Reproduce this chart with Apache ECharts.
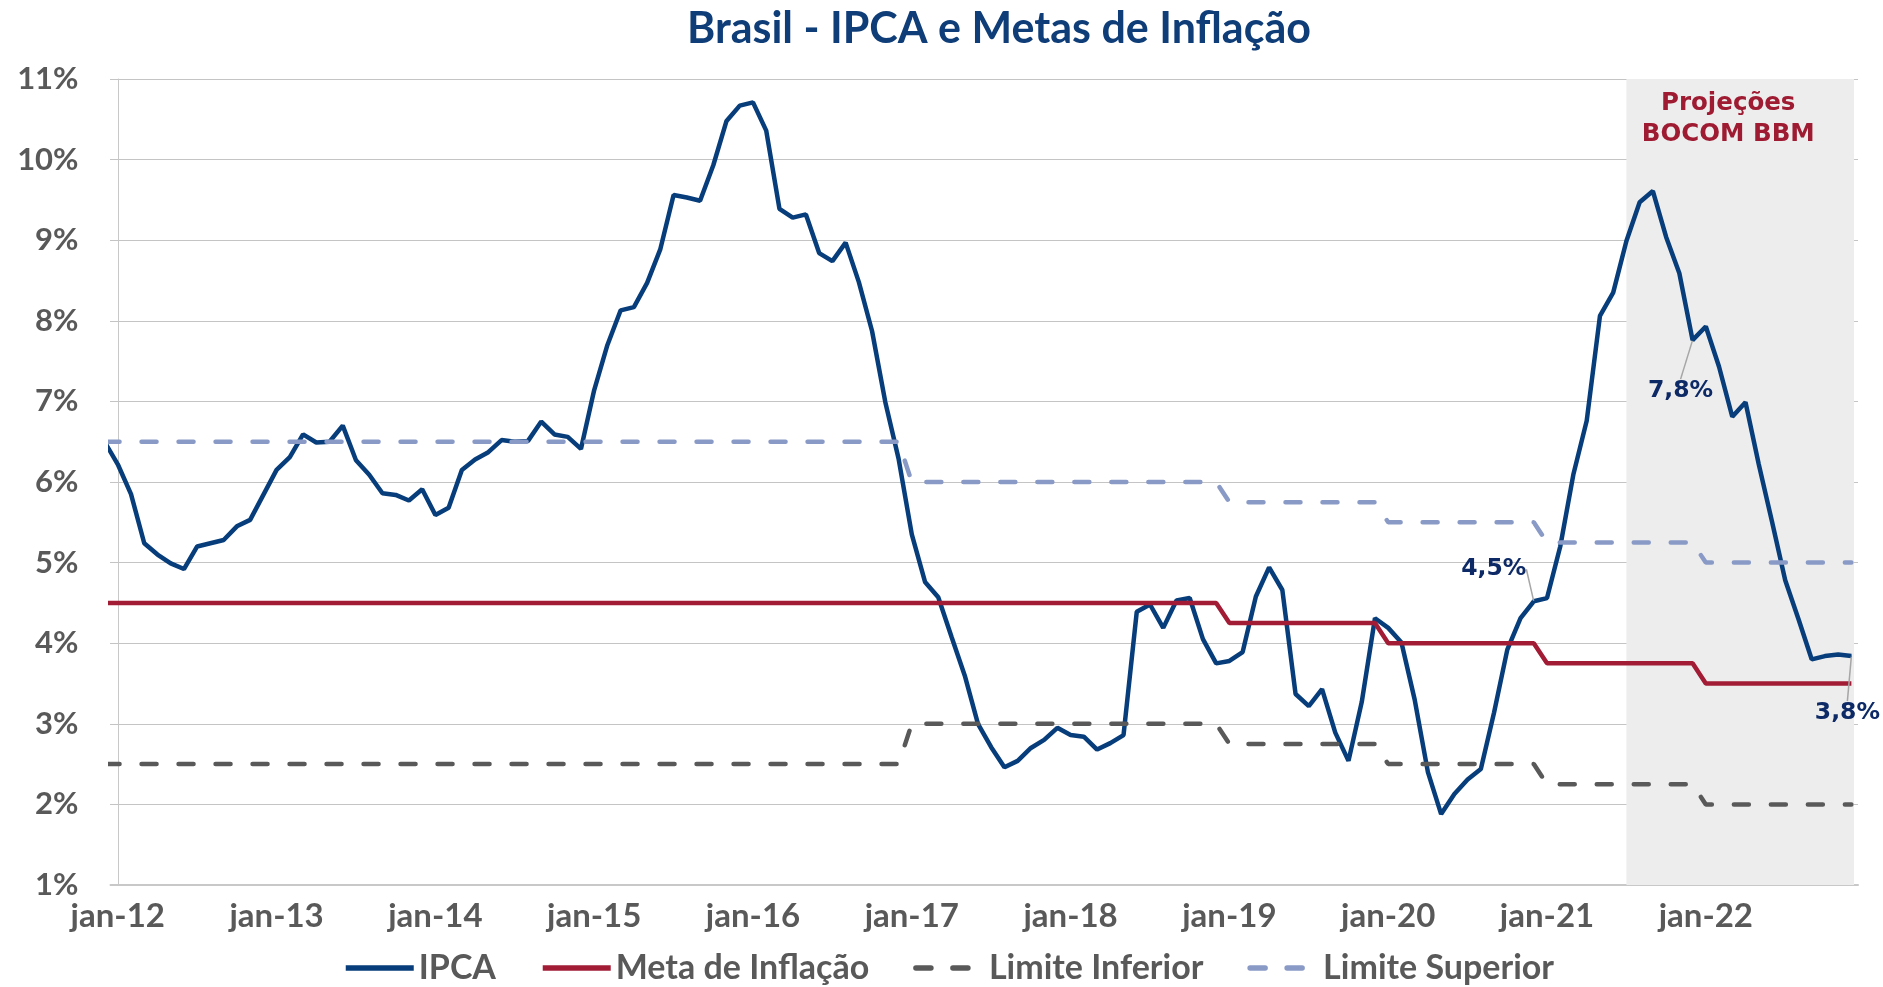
<!DOCTYPE html>
<html lang="pt-BR">
<head>
<meta charset="utf-8">
<title>Brasil - IPCA e Metas de Inflação</title>
<script src="https://cdn.jsdelivr.net/npm/echarts@6/dist/echarts.min.js"></script>
<style>
  html, body { margin: 0; padding: 0; background: #fff; }
  #chart { width: 1883px; height: 987px; }
</style>
</head>
<body>
<div id="chart"></div>
<script>
// rótulos do eixo x, um por ano (janeiro)
const rotulosX = ['jan-12', 'jan-13', 'jan-14', 'jan-15', 'jan-16', 'jan-17',
  'jan-18', 'jan-19', 'jan-20', 'jan-21', 'jan-22']

// IPCA 12 meses (%), de dez-11 a dez-22; a partir de ago-21 são projeções
const ipca = [
  6.50,
  6.22, 5.85, 5.24, 5.10, 4.99, 4.92, 5.20, 5.24, 5.28, 5.45, 5.53, 5.84,
  6.15, 6.31, 6.59, 6.49, 6.50, 6.70, 6.27, 6.09, 5.86, 5.84, 5.77, 5.91,
  5.59, 5.68, 6.15, 6.28, 6.37, 6.52, 6.50, 6.51, 6.75, 6.59, 6.56, 6.41,
  7.14, 7.70, 8.13, 8.17, 8.47, 8.89, 9.56, 9.53, 9.49, 9.93, 10.48, 10.67,
  10.71, 10.36, 9.39, 9.28, 9.32, 8.84, 8.74, 8.97, 8.48, 7.87, 6.99, 6.29,
  5.35, 4.76, 4.57, 4.08, 3.60, 3.00, 2.71, 2.46, 2.54, 2.70, 2.80, 2.95,
  2.86, 2.84, 2.68, 2.76, 2.86, 4.39, 4.48, 4.19, 4.53, 4.56, 4.05, 3.75,
  3.78, 3.89, 4.58, 4.94, 4.66, 3.37, 3.22, 3.43, 2.89, 2.54, 3.27, 4.31,
  4.19, 4.01, 3.30, 2.40, 1.88, 2.13, 2.31, 2.44, 3.14, 3.92, 4.31, 4.52,
  4.56, 5.20, 6.10, 6.76, 8.06, 8.35, 8.99, 9.47, 9.61, 9.04, 8.59, 7.76,
  7.93, 7.43, 6.81, 6.99, 6.22, 5.51, 4.78, 4.30, 3.80, 3.84, 3.86, 3.84
]

// metas e limites de tolerância por ano, 2011 a 2022
const anos = [2011, 2012, 2013, 2014, 2015, 2016, 2017, 2018, 2019, 2020, 2021, 2022]
const metaAnual = [4.5, 4.5, 4.5, 4.5, 4.5, 4.5, 4.5, 4.5, 4.25, 4.0, 3.75, 3.5]
const limiteInfAnual = [2.5, 2.5, 2.5, 2.5, 2.5, 2.5, 3.0, 3.0, 2.75, 2.5, 2.25, 2.0]
const limiteSupAnual = [6.5, 6.5, 6.5, 6.5, 6.5, 6.5, 6.0, 6.0, 5.75, 5.5, 5.25, 5.0]

// meses (0 = jan-12) com valor destacado e início da área de projeção
const mesesDestacados = [107, 119, 131]
const inicioProjecao = 114
const fimProjecao = 131.2

// deslocamento (px) de cada rótulo destacado em relação ao ponto
const deslocRotulos = [[-40, -32], [-12, 51], [-4, 57]]

const fonteEixo = 'Lato, "Open Sans", sans-serif'
const fonteNota = '"DejaVu Sans", Verdana, sans-serif'

const mesDoIndice = i => i - 1
const anoDoMes = m => Math.floor(m / 12) + 1

const serieIpca = ipca.map((v, i) => {
  const m = mesDoIndice(i)
  if (mesesDestacados.includes(m)) {
    return { value: [m, v], symbol: 'circle', symbolSize: 1, label: { show: true } }
  }
  return [m, v]
})
const porMes = anual => ipca.map((_, i) => {
  const m = mesDoIndice(i)
  return [m, anual[anoDoMes(m)]]
})

const chart = echarts.init(document.getElementById('chart'))

const tracejado = { type: [15, 22], cap: 'round', width: 4.5 }

chart.setOption({
  animation: false,
  title: {
    text: 'Brasil - IPCA e Metas de Inflação',
    left: 994,
    top: 3,
    textAlign: 'center',
    textStyle: { fontFamily: fonteEixo, fontSize: 43, fontWeight: 'bold', color: '#0e3d78' }
  },
  legend: {
    data: ['IPCA', 'Meta de Inflação', 'Limite Inferior', 'Limite Superior'],
    left: 338,
    top: 946,
    itemWidth: 68,
    itemHeight: 14,
    itemGap: 44,
    itemStyle: { color: 'transparent', borderWidth: 0, opacity: 0 },
    lineStyle: { width: 5.5 },
    textStyle: { fontFamily: fonteEixo, fontSize: 34, fontWeight: 'bold', color: '#595959' }
  },
  grid: { left: 110.5, right: 25, top: 79, bottom: 102 },
  xAxis: {
    type: 'value',
    min: -0.55,
    max: 131.5,
    splitLine: { show: false },
    axisTick: { show: false },
    axisLine: { lineStyle: { color: '#c8c8c8', width: 2 } },
    axisLabel: {
      customValues: rotulosX.map((_, k) => k * 12),
      formatter: v => rotulosX[Math.round(v / 12)],
      margin: 15,
      fontFamily: fonteEixo,
      fontSize: 33,
      fontWeight: 'bold',
      color: '#595959'
    }
  },
  yAxis: {
    type: 'value',
    min: 1,
    max: 11,
    interval: 1,
    axisLine: { show: true, lineStyle: { color: '#c8c8c8', width: 1 } },
    axisTick: { show: false },
    splitLine: { lineStyle: { type: 'dotted', color: '#888888', width: 1 } },
    axisLabel: {
      formatter: v => v + '%',
      margin: 32,
      fontFamily: fonteEixo,
      fontSize: 31,
      fontWeight: 'bold',
      color: '#595959'
    }
  },
  series: [
    {
      name: 'Projeções',
      type: 'line',
      data: [],
      z: -1,
      markArea: {
        silent: true,
        itemStyle: { color: '#ededed' },
        label: {
          position: 'insideTop',
          distance: 9,
          offset: [-12, 0],
          formatter: 'Projeções\nBOCOM BBM',
          fontFamily: fonteNota,
          fontSize: 24.5,
          lineHeight: 31,
          fontWeight: 'bold',
          color: '#9e1b32'
        },
        data: [[{ xAxis: inicioProjecao }, { xAxis: fimProjecao }]]
      }
    },
    {
      name: 'IPCA',
      type: 'line',
      data: serieIpca,
      symbol: 'none',
      lineStyle: { color: '#063d7a', width: 4.5 },
      itemStyle: { color: '#063d7a' },
      label: {
        show: false,
        position: 'inside',
        formatter: p => p.value[1].toFixed(1).replace('.', ',') + '%',
        fontFamily: fonteNota,
        fontSize: 23.5,
        fontWeight: 'bold',
        color: '#0d2a66'
      },
      labelLine: { show: true, lineStyle: { color: '#a6a6a6', width: 1.5 } },
      labelLayout: p => {
        const k = mesesDestacados.indexOf(mesDoIndice(p.dataIndex))
        if (k < 0) return {}
        return { dx: deslocRotulos[k][0], dy: deslocRotulos[k][1] }
      }
    },
    {
      name: 'Meta de Inflação',
      type: 'line',
      data: porMes(metaAnual),
      symbol: 'none',
      lineStyle: { color: '#a21c36', width: 4.5 },
      itemStyle: { color: '#a21c36' }
    },
    {
      name: 'Limite Inferior',
      type: 'line',
      data: porMes(limiteInfAnual),
      symbol: 'none',
      lineStyle: Object.assign({ color: '#595959' }, tracejado),
      itemStyle: { color: '#595959' }
    },
    {
      name: 'Limite Superior',
      type: 'line',
      data: porMes(limiteSupAnual),
      symbol: 'none',
      lineStyle: Object.assign({ color: '#8a9ac6' }, tracejado),
      itemStyle: { color: '#8a9ac6' }
    }
  ]
})
</script>
</body>
</html>
